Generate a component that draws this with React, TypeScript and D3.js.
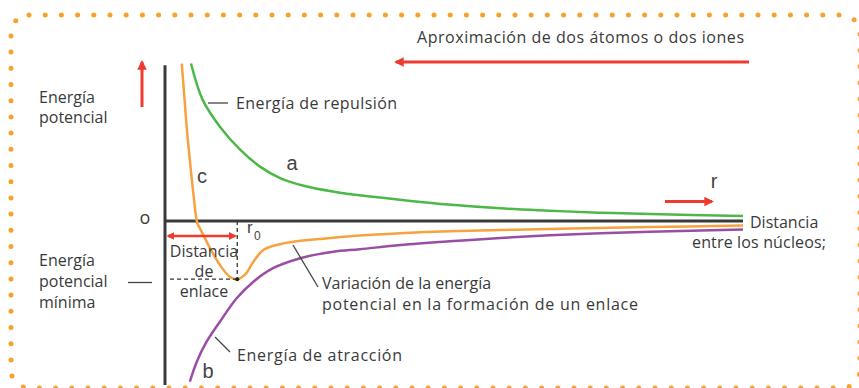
import * as d3 from 'd3';

// distance between nuclei (arbitrary units) and energy values
const repulsionR = [0.45, 0.65, 0.95, 1.3, 1.65, 2, 2.4, 2.9, 3.4, 4.1, 4.9, 5.8, 6.65, 7.5, 8.4, 10];
const repulsionE = [9.6, 7.4, 5.75, 4.35, 3.3, 2.6, 2.15, 1.8, 1.55, 1.28, 1.0, 0.77, 0.63, 0.51, 0.43, 0.3];

const totalR = [0.29, 0.33, 0.375, 0.43, 0.49, 0.56, 0.605, 0.78, 0.95, 1.12, 1.25, 1.38, 1.53, 1.7, 1.93, 2.22, 2.68, 3.37, 4.07, 4.93, 6.66, 8.39, 10];
const totalE = [9.6, 7.8, 5.75, 3.7, 1.7, -0.14, -0.45, -1.66, -2.68, -3.4, -3.55, -3.29, -2.48, -1.77, -1.46, -1.26, -1.1, -0.88, -0.74, -0.62, -0.49, -0.37, -0.27];

const attractionR = [0.43, 0.55, 0.72, 0.95, 1.24, 1.53, 1.87, 2.34, 2.91, 3.37, 4.07, 4.93, 5.8, 6.66, 7.53, 8.39, 10];
const attractionE = [-9.8, -8.58, -7.36, -6.14, -4.71, -3.7, -2.88, -2.27, -1.87, -1.72, -1.47, -1.24, -1.04, -0.87, -0.75, -0.65, -0.52];

const r0 = 1.25;
const eMin = -3.55;

const W = 859;
const H = 388;
const RED = '#ee3b30';
const FONT = '"Open Sans", sans-serif';
const TXT = '#3a3a3a';

export default function App() {
  const x = d3.scaleLinear().domain([0, 10]).range([165, 743]);
  const y = d3.scaleLinear().domain([-10, 10]).range([385, 57]);

  const line = d3
    .line<[number, number]>()
    .x((d) => x(d[0]))
    .y((d) => y(d[1]))
    .curve(d3.curveCatmullRom.alpha(0.5));

  const zip = (rs: number[], es: number[]) => rs.map((r, i) => [r, es[i]] as [number, number]);

  const t = (props: any, s: string) => (
    <text fontFamily={FONT} fontSize={16} fill={TXT} {...props}>
      {s}
    </text>
  );

  return (
    <svg width={W} height={H} style={{ position: 'absolute', left: 0, top: 0 }}>
      <defs>
        <marker id="ah" viewBox="0 0 10 10" refX="8" refY="5" markerWidth="3.2" markerHeight="3.2" orient="auto-start-reverse">
          <path d="M0,0 L10,5 L0,10 z" fill={RED} />
        </marker>
      </defs>
      <rect width={W} height={H} fill="#fff" />
      {/* dotted frame */}
      <rect x={11} y={15} width={849} height={373} rx={18} fill="none" stroke="#f7a12e" strokeWidth={5}
        strokeLinecap="round" strokeDasharray="0 16.2" />

      {/* axes */}
      <line x1={x(0)} x2={x(0)} y1={y(9.5)} y2={y(-10)} stroke="#3a3a3a" strokeWidth={3} />
      <line x1={x(0)} x2={x(10)} y1={y(0)} y2={y(0)} stroke="#3a3a3a" strokeWidth={3} />

      {/* curves */}
      <path d={line(zip(repulsionR, repulsionE)) || ''} fill="none" stroke="#4cb848" strokeWidth={2.5} />
      <path d={line(zip(attractionR, attractionE)) || ''} fill="none" stroke="#9a4ea3" strokeWidth={2.5} />
      <path d={line(zip(totalR, totalE)) || ''} fill="none" stroke="#f7a23f" strokeWidth={2.5} />

      {/* bond distance */}
      <line x1={x(r0)} x2={x(r0)} y1={y(0)} y2={y(eMin)} stroke="#333" strokeWidth={1.3} strokeDasharray="4 3" />
      <line x1={x(0) + 5} x2={x(r0)} y1={y(eMin)} y2={y(eMin)} stroke="#333" strokeWidth={1.3} strokeDasharray="4 3" />
      <circle cx={x(r0)} cy={y(eMin)} r={2} fill="#222" />
      <line x1={x(0) + 3} x2={x(r0) - 2} y1={236} y2={236} stroke={RED} strokeWidth={2.5}
        markerStart="url(#ah)" markerEnd="url(#ah)" />

      {/* red direction arrows */}
      <line x1={142} x2={142} y1={107} y2={62} stroke={RED} strokeWidth={3} markerEnd="url(#ah)" />
      <line x1={749} x2={396} y1={62} y2={62} stroke={RED} strokeWidth={3} markerEnd="url(#ah)" />
      <line x1={665} x2={712} y1={201.5} y2={201.5} stroke={RED} strokeWidth={3} markerEnd="url(#ah)" />

      {/* leader lines */}
      <line x1={208} x2={228} y1={103} y2={103} stroke="#444" strokeWidth={1.3} />
      <line x1={293} x2={318} y1={245} y2={287} stroke="#444" strokeWidth={1.3} />
      <line x1={215} x2={230} y1={337} y2={352} stroke="#444" strokeWidth={1.3} />
      <line x1={128} x2={152} y1={282.5} y2={282.5} stroke="#444" strokeWidth={1.3} />

      {/* labels */}
      {t({ x: 417, y: 43, textLength: 327 }, 'Aproximación de dos átomos o dos iones')}
      {t({ x: 39, y: 103 }, 'Energía')}
      {t({ x: 39, y: 123 }, 'potencial')}
      {t({ x: 39, y: 266 }, 'Energía')}
      {t({ x: 39, y: 287 }, 'potencial')}
      {t({ x: 39, y: 308 }, 'mínima')}
      {t({ x: 236, y: 109, textLength: 161 }, 'Energía de repulsión')}
      {t({ x: 237, y: 361, textLength: 165 }, 'Energía de atracción')}
      {t({ x: 322, y: 289 }, 'Variación de la energía')}
      {t({ x: 322, y: 310, textLength: 316 }, 'potencial en la formación de un enlace')}
      {t({ x: 204, y: 257, textAnchor: 'middle' }, 'Distancia')}
      {t({ x: 204, y: 277, textAnchor: 'middle' }, 'de')}
      {t({ x: 204, y: 297, textAnchor: 'middle' }, 'enlace')}
      {t({ x: 750, y: 228 }, 'Distancia')}
      {t({ x: 692, y: 248, textLength: 134 }, 'entre los núcleos;')}
      {t({ x: 145, y: 224, textAnchor: 'middle', fontSize: 18 }, 'o')}

      <g fontFamily='"Liberation Sans", Arial, sans-serif' fill="#444" fontSize={20}>
        <text x={292} y={170} textAnchor="middle">a</text>
        <text x={208} y={378} textAnchor="middle">b</text>
        <text x={202} y={183} textAnchor="middle">c</text>
        <text x={714} y={188} textAnchor="middle">r</text>
        <text x={247} y={233} fontSize={17}>r</text>
        <text x={254} y={240} fontSize={12}>0</text>
      </g>
    </svg>
  );
}
